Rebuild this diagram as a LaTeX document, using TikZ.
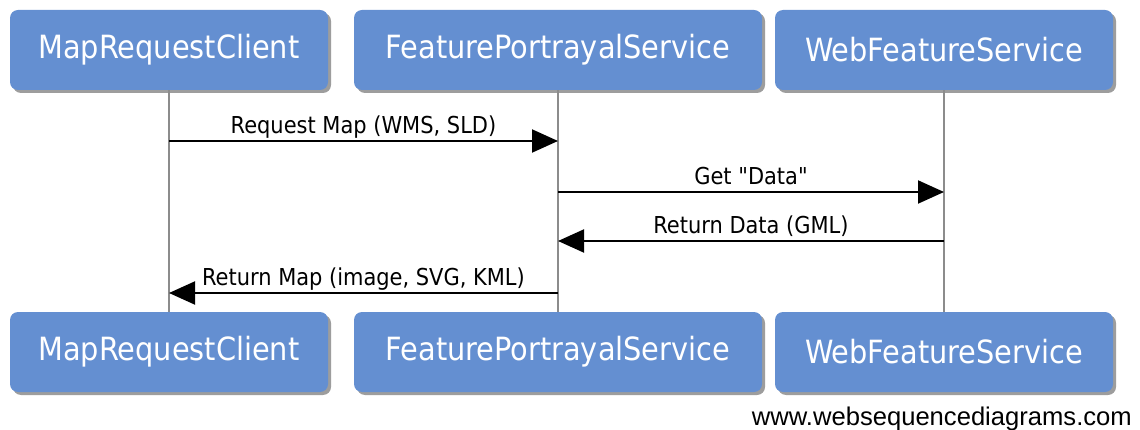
\documentclass[tikz,border=0pt]{standalone}
\usepackage{fontspec}
\setmainfont{DejaVu Sans Condensed}
\newfontfamily\labelfont{DejaVu Sans Condensed}
\newfontfamily\markfont{Liberation Sans}
\usetikzlibrary{arrows.meta,shadows}

\definecolor{actorfill}{RGB}{100,143,209}
\definecolor{lifegray}{RGB}{140,140,140}

\tikzset{
  actor/.style={
    rectangle, rounded corners=8pt, fill=actorfill, draw=none,
    minimum height=80pt, inner sep=0pt, text=white,
    font=\labelfont\fontsize{32}{36}\selectfont,
    drop shadow={shadow xshift=3pt, shadow yshift=-3pt, opacity=0.55, fill=black!70}
  },
  lifeline/.style={draw=lifegray, line width=1.5pt},
  msg/.style={draw=black, line width=2pt, -{Triangle[length=26pt,width=23pt]}},
  msglabel/.style={font=\labelfont\fontsize{23.3}{26}\selectfont, anchor=base, inner sep=0pt}
}

\begin{document}
\begin{tikzpicture}[x=1pt,y=1pt]
  \useasboundingbox (0,0) rectangle (1140,-430);

  % participants, top row
  \node[actor, minimum width=318pt] (topA) at (169,-50) {MapRequestClient};
  \node[actor, minimum width=408pt] (topB) at (558,-50) {FeaturePortrayalService};
  \node[actor, minimum width=338pt] (topC) at (944,-50) {WebFeatureService};

  % participants, bottom row
  \node[actor, minimum width=318pt] (botA) at (169,-352) {MapRequestClient};
  \node[actor, minimum width=408pt] (botB) at (558,-352) {FeaturePortrayalService};
  \node[actor, minimum width=338pt] (botC) at (944,-352) {WebFeatureService};

  % lifelines
  \draw[lifeline] (topA.south) -- (botA.north);
  \draw[lifeline] (topB.south) -- (botB.north);
  \draw[lifeline] (topC.south) -- (botC.north);

  % message rows
  \coordinate (m1) at (0,-141);
  \coordinate (m2) at (0,-192);
  \coordinate (m3) at (0,-241);
  \coordinate (m4) at (0,-293);

  \draw[msg] (topA.south |- m1) -- (topB.south |- m1)
    node[msglabel, midway, yshift=7pt] (l1) {Request Map (WMS, SLD)};
  \draw[msg] (topB.south |- m2) -- (topC.south |- m2)
    node[msglabel, midway, yshift=7pt] (l2) {Get "Data"};
  \draw[msg] (topC.south |- m3) -- (topB.south |- m3)
    node[msglabel, midway, yshift=7pt] (l3) {Return Data (GML)};
  \draw[msg] (topB.south |- m4) -- (topA.south |- m4)
    node[msglabel, midway, yshift=7pt] (l4) {Return Map (image, SVG, KML)};

  \node[anchor=base east, inner sep=0pt, font=\markfont\fontsize{25.6}{28}\selectfont]
    (mark) at (1132,-425) {www.websequencediagrams.com};
\end{tikzpicture}
\end{document}
